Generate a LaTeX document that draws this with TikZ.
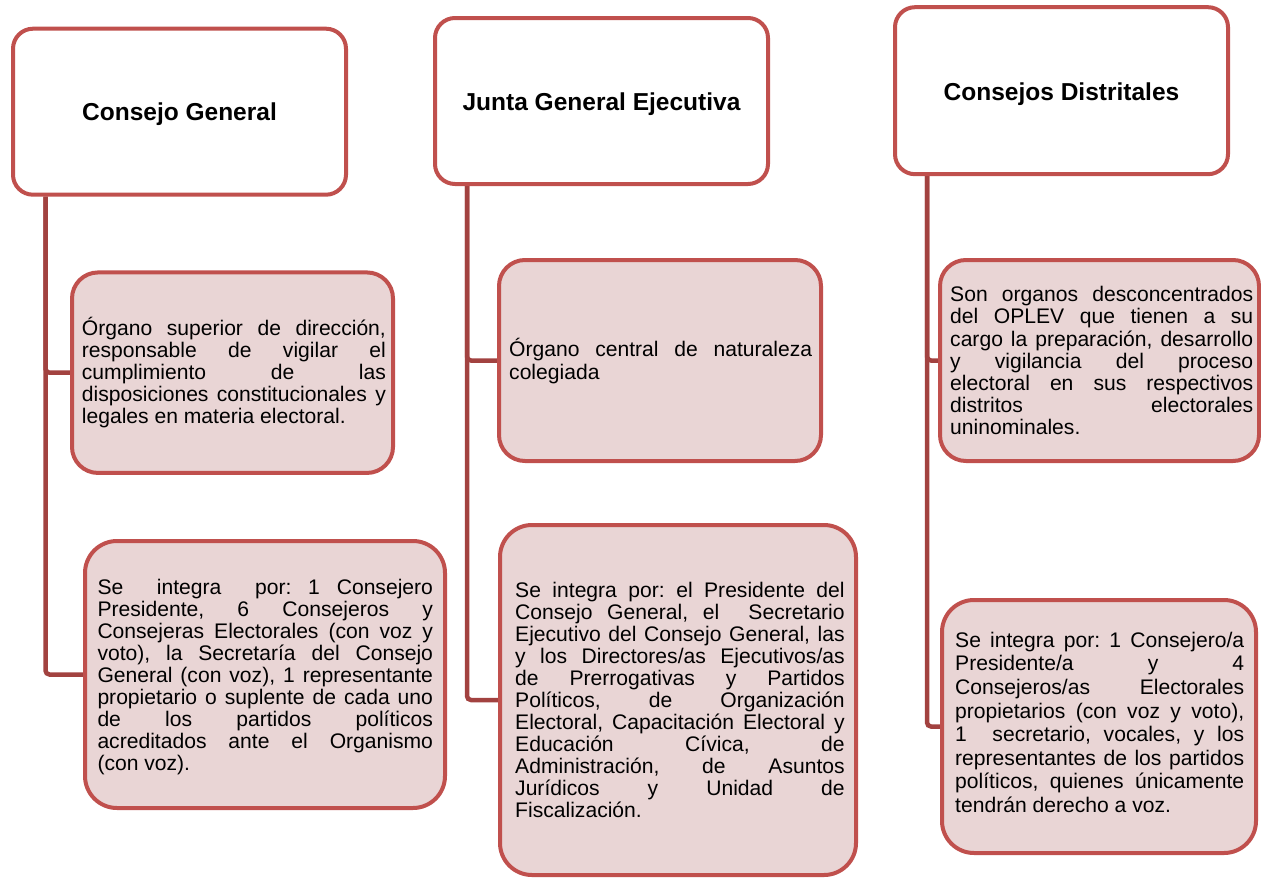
\documentclass[tikz,border=0pt]{standalone}
\usepackage{fontspec}
\setmainfont{Liberation Sans}
\usetikzlibrary{backgrounds}
\definecolor{bord}{RGB}{192,80,77}
\definecolor{connc}{RGB}{162,66,64}
\definecolor{pinkfill}{RGB}{233,213,213}
\frenchspacing
\begin{document}
\begin{tikzpicture}[x=1pt,y=-1pt,
  titlebox/.style={draw=bord, line width=4pt, fill=white, rounded corners=20pt, inner sep=0pt},
  infobox/.style={draw=bord, line width=4pt, fill=pinkfill, rounded corners=26pt, inner sep=0pt},
  bigbox/.style={infobox, rounded corners=32pt},
  conline/.style={draw=connc, line width=4.5pt, rounded corners=4pt},
  titletext/.style={font=\fontsize{24.5}{28}\selectfont\bfseries, anchor=base, inner sep=0pt},
  bodytext/.style={font=\fontsize{21.1}{22}\selectfont, anchor=base west, inner sep=0pt, align=justify,
    execute at begin node={\frenchspacing\tolerance=10000\hyphenpenalty=10000\relax}},
]
\useasboundingbox (0,0) rectangle (1261,878);

% title boxes
\node[titlebox, minimum width=333pt, minimum height=166pt] (A) at (179.5,111.7) {};
\node[titlebox, minimum width=333pt, minimum height=166pt] (B) at (601.5,101) {};
\node[titlebox, minimum width=333pt, minimum height=167pt] (C) at (1061.5,90.7) {};

% info boxes
\node[infobox, minimum width=321pt, minimum height=200.5pt] (A1) at (232.5,372.7) {};
\node[bigbox, minimum width=360pt, minimum height=267pt] (A2) at (265,674.5) {};
\node[infobox, minimum width=322pt, minimum height=201pt] (B1) at (660,360.5) {};
\node[bigbox, minimum width=356pt, minimum height=350pt] (B2) at (678,700) {};
\node[infobox, minimum width=319pt, minimum height=201pt] (C1) at (1099.5,360.5) {};
\node[bigbox, minimum width=314pt, minimum height=253pt] (C2) at (1099,726.5) {};

% connectors
\begin{pgfonlayer}{background}
\draw[conline] ([xshift=34.5pt]A.south west) |- (A1.west);
\draw[conline] ([xshift=34.5pt]A.south west) |- (A2.west);
\draw[conline] ([xshift=34pt]B.south west) |- (B1.west);
\draw[conline] ([xshift=34pt]B.south west) |- (B2.west);
\draw[conline] ([xshift=34pt]C.south west) |- (C1.west);
\draw[conline] ([xshift=34pt]C.south west) |- (C2.west);
\end{pgfonlayer}

% titles
\node[titletext] (tA) at (179.5,120.7) {Consejo General};
\node[titletext] (tB) at (601.5,110) {Junta General Ejecutiva};
\node[titletext] (tC) at (1061.5,100) {Consejos Distritales};

% body texts
\node[bodytext, text width=304pt] (xA1) at (81.7,335) {%
Órgano superior de dirección,\linebreak
responsable de vigilar el\linebreak
cumplimiento de las\linebreak
disposiciones constitucionales y\linebreak
legales en materia electoral.};

\node[bodytext, text width=335.5pt] (xA2) at (97.3,594) {%
Se\ \ integra\ \ por: 1 Consejero\linebreak
Presidente, 6 Consejeros y\linebreak
Consejeras Electorales (con voz y\linebreak
voto), la Secretaría del Consejo\linebreak
General (con voz), 1 representante\linebreak
propietario o suplente de cada uno\linebreak
de los partidos políticos\linebreak
acreditados ante el Organismo\linebreak
(con voz).};

\node[bodytext, text width=303pt, font=\fontsize{21.1}{22.7}\selectfont] (xB1) at (509,356.7) {%
Órgano central de naturaleza\linebreak
colegiada};

\node[bodytext, text width=329.5pt] (xB2) at (515,597.3) {%
Se integra por: el Presidente del\linebreak
Consejo General, el\ \ Secretario\linebreak
Ejecutivo del Consejo General, las\linebreak
y los Directores/as Ejecutivos/as\linebreak
de Prerrogativas y Partidos\linebreak
Políticos, de Organización\linebreak
Electoral, Capacitación Electoral y\linebreak
Educación Cívica, de\linebreak
Administración, de Asuntos\linebreak
Jurídicos y Unidad de\linebreak
Fiscalización.};

\node[bodytext, text width=303pt, font=\fontsize{21.1}{22.2}\selectfont] (xC1) at (950,301.7) {%
Son organos desconcentrados\linebreak
del OPLEV que tienen a su\linebreak
cargo la preparación, desarrollo\linebreak
y vigilancia del proceso\linebreak
electoral en sus respectivos\linebreak
distritos electorales\linebreak
uninominales.};

\node[bodytext, text width=289pt, font=\fontsize{21.1}{23.6}\selectfont] (xC2) at (955,647.3) {%
Se integra por: 1 Consejero/a\linebreak
Presidente/a y 4\linebreak
Consejeros/as Electorales\linebreak
propietarios (con voz y voto),\linebreak
1\ \ secretario, vocales, y los\linebreak
representantes de los partidos\linebreak
políticos, quienes únicamente\linebreak
tendrán derecho a voz.};
\end{tikzpicture}
\end{document}
